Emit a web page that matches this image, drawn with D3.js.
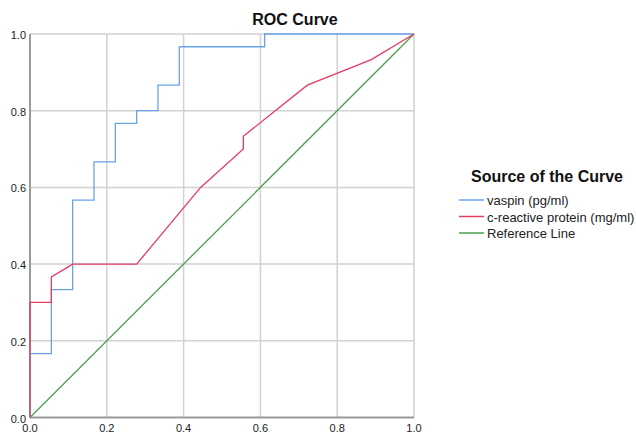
<!DOCTYPE html>
<html><head><meta charset="utf-8">
<script src="https://cdn.jsdelivr.net/npm/d3@7"></script>
<style>body{margin:0;background:#fff;}svg{display:block;font-family:Arial,"Liberation Sans",sans-serif;}</style>
</head><body><svg id="c" width="636" height="434"></svg>
<script>
const seriesNames = ["vaspin (pg/ml)", "c-reactive protein (mg/ml)", "Reference Line"];
const seriesColors = ["#68a3ec", "#e23d62", "#4e9e4e"];
const vaspinFPR = [0, 0, 0.0556, 0.0556, 0.1111, 0.1111, 0.1667, 0.1667, 0.2222, 0.2222, 0.2778, 0.2778, 0.3333, 0.3333, 0.3889, 0.3889, 0.6111, 0.6111, 1.0];
const vaspinTPR = [0, 0.1667, 0.1667, 0.3333, 0.3333, 0.5667, 0.5667, 0.6667, 0.6667, 0.7667, 0.7667, 0.8, 0.8, 0.8667, 0.8667, 0.9667, 0.9667, 1.0, 1.0];
const crpFPR = [0, 0, 0.0556, 0.0556, 0.1111, 0.2778, 0.4444, 0.5556, 0.5556, 0.7222, 0.8889, 1.0];
const crpTPR = [0, 0.3, 0.3, 0.3667, 0.4, 0.4, 0.6, 0.7, 0.7333, 0.8667, 0.9333, 1.0];
const refFPR = [0, 1];
const refTPR = [0, 1];
const tickValues = [0, 0.2, 0.4, 0.6, 0.8, 1.0];

const svg = d3.select("#c");
const x = d3.scaleLinear().domain([0, 1]).range([30, 414]);
const y = d3.scaleLinear().domain([0, 1]).range([417.5, 34]);

// gridlines
const g = svg.append("g");
g.selectAll(".vg").data(tickValues.slice(1)).join("line")
  .attr("x1", d => x(d)).attr("x2", d => x(d)).attr("y1", y(0)).attr("y2", y(1))
  .attr("stroke", "#d2d2d2").attr("stroke-width", 1.5);
g.selectAll(".hg").data(tickValues.slice(1)).join("line")
  .attr("x1", x(0)).attr("x2", x(1)).attr("y1", d => y(d)).attr("y2", d => y(d))
  .attr("stroke", "#d2d2d2").attr("stroke-width", 1.5);

// axes lines
svg.append("line").attr("x1", x(0)).attr("x2", x(0)).attr("y1", y(0)).attr("y2", y(1))
  .attr("stroke", "#9a9a9a").attr("stroke-width", 2);
svg.append("line").attr("x1", x(0)).attr("x2", x(1)).attr("y1", y(0)).attr("y2", y(0))
  .attr("stroke", "#9a9a9a").attr("stroke-width", 2);

// tick labels
svg.selectAll(".yl").data(tickValues).join("text")
  .attr("x", 26).attr("y", d => y(d) + 5).attr("text-anchor", "end")
  .attr("font-size", 11).attr("fill", "#222").text(d => d3.format(".1f")(d));
svg.selectAll(".xl").data(tickValues).join("text")
  .attr("x", d => x(d)).attr("y", 432).attr("text-anchor", "middle")
  .attr("font-size", 11).attr("fill", "#222").text(d => d3.format(".1f")(d));

const line = d3.line().x(d => x(d[0])).y(d => y(d[1]));
const series = [
  d3.zip(vaspinFPR, vaspinTPR),
  d3.zip(crpFPR, crpTPR),
  d3.zip(refFPR, refTPR)
];
[2, 0, 1].forEach(i => {
  svg.append("path").attr("d", line(series[i])).attr("fill", "none")
    .attr("stroke", seriesColors[i]).attr("stroke-width", 1.3);
});

// title
svg.append("text").attr("x", 295).attr("y", 25).attr("text-anchor", "middle")
  .attr("font-size", 16).attr("font-weight", "bold").attr("fill", "#111").text("ROC Curve");

// legend
svg.append("text").attr("x", 547).attr("y", 182).attr("text-anchor", "middle")
  .attr("font-size", 16).attr("font-weight", "bold").attr("fill", "#111").text("Source of the Curve");
const lg = svg.selectAll(".lg").data(seriesNames).join("g")
  .attr("transform", (d, i) => `translate(459, ${200 + i * 16.5})`);
lg.append("line").attr("x1", 0).attr("x2", 25).attr("y1", 0).attr("y2", 0)
  .attr("stroke", (d, i) => seriesColors[i]).attr("stroke-width", 1.5);
lg.append("text").attr("x", 28).attr("y", 5).attr("font-size", 13).attr("fill", "#222").text(d => d);
</script>
</body></html>
